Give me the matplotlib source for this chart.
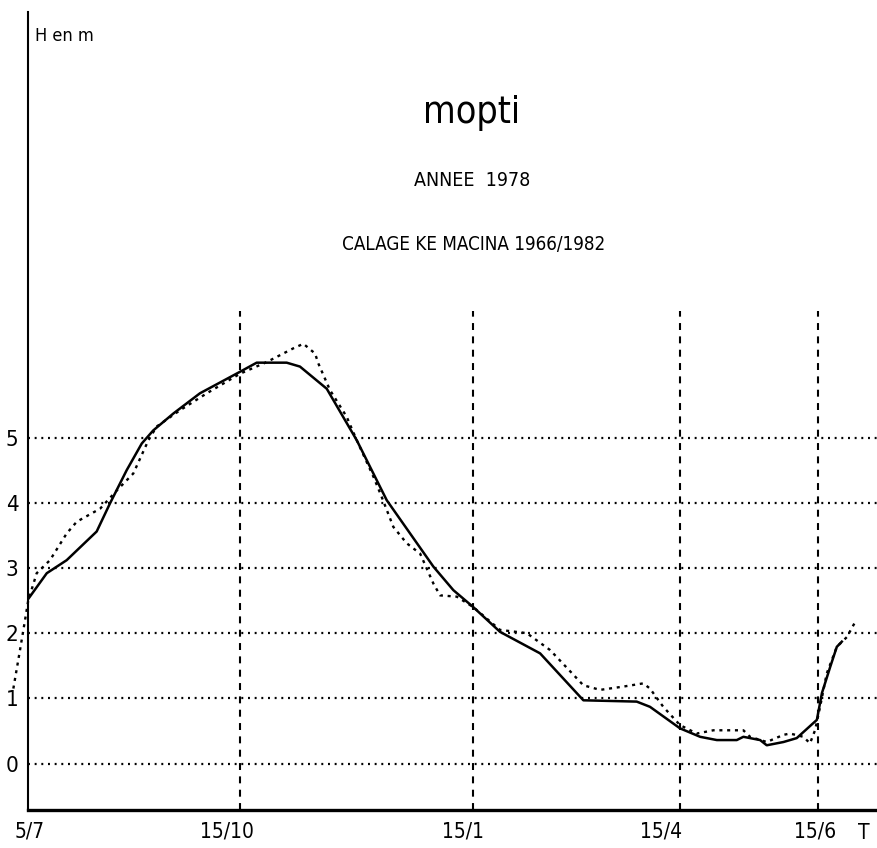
import matplotlib
matplotlib.use('Agg')
import matplotlib.pyplot as plt
from matplotlib.transforms import ScaledTranslation

plt.rcParams['font.family'] = ['DejaVu Sans']
plt.rcParams['font.stretch'] = 'condensed'
plt.rcParams['lines.scale_dashes'] = False

# Hauteurs a Mopti, annee 1978 (jours comptes depuis le 5/7, echelle du graphe)
jours_obs = [0, 8.2, 16.9, 30.0, 35.8, 43.1, 49.7, 54.7, 63.5, 75.1, 92.6, 99.9,
             113.0, 118.8, 130.5, 143.6, 156.7, 177.1, 185.8, 194.5, 206.2, 223.7,
             242.6, 265.9, 271.7, 284.8, 293.6, 300.9, 309.6, 312.5, 319.8, 322.7,
             330.0, 335.8, 344.6, 346.8, 350.4, 353.3, 355.5]
h_obs = [2.52, 2.92, 3.12, 3.56, 3.99, 4.50, 4.91, 5.11, 5.37, 5.68, 6.01, 6.15,
         6.15, 6.09, 5.75, 4.96, 4.04, 3.02, 2.66, 2.40, 2.02, 1.69,
         0.97, 0.95, 0.87, 0.54, 0.41, 0.36, 0.36, 0.41, 0.36, 0.28,
         0.33, 0.39, 0.67, 1.08, 1.48, 1.79, 1.87]

# Hauteurs calculees (calage KE Macina 1966/1982)
jours_sim = [-6.4, -3.5, -1.3, 0.1, 3.8, 9.6, 16.9, 21.3, 31.5, 38.8, 46.0, 52.6,
             56.2, 66.4, 78.1, 92.6, 104.3, 115.9, 120.3, 125.4, 126.8, 131.9,
             139.2, 143.6, 150.9, 154.5, 159.6, 165.4, 171.3, 177.1, 180.0, 187.3,
             194.5, 206.2, 217.9, 228.1, 242.6, 249.9, 260.0, 268.8, 271.7, 277.5,
             284.8, 292.1, 299.4, 312.5, 315.4, 322.7, 330.0, 332.9, 338.7, 341.6,
             343.8, 346.0, 348.9, 353.3, 357.7, 361.3]
h_sim = [1.15, 1.74, 2.20, 2.50, 2.92, 3.12, 3.53, 3.71, 3.91, 4.19, 4.45, 4.96,
         5.17, 5.42, 5.68, 5.98, 6.16, 6.37, 6.44, 6.29, 6.14, 5.73,
         5.32, 4.96, 4.40, 4.09, 3.63, 3.38, 3.22, 2.76, 2.58, 2.56,
         2.40, 2.05, 2.00, 1.74, 1.20, 1.13, 1.18, 1.23, 1.15, 0.87,
         0.59, 0.46, 0.51, 0.51, 0.41, 0.33, 0.44, 0.46, 0.41, 0.31,
         0.51, 0.87, 1.38, 1.79, 1.94, 2.17]

graduations_x = [0, 92.6, 194.3, 284.8, 345]
etiquettes_x = ['5/7', '15/10', '15/1', '15/4', '15/6']
decalage_x = [2, -13, -10, -19, -3]   # decalage des etiquettes en pixels
graduations_y = [0, 1, 2, 3, 4, 5]

fig = plt.figure(figsize=(8.78, 8.48), dpi=100)
ax = fig.add_axes([28 / 878, 38 / 848, 850 / 878, 798 / 848])
ax.set_xlim(0, 371.3)
ax.set_ylim(-0.713, 11.53)

# grille
ax.hlines(graduations_y, 0, 371.3, colors='black', linewidth=1.6,
          linestyles=[(0, (1.4, 3.4))], zorder=1)
ax.vlines(graduations_x[1:], -0.713, 6.95, colors='black', linewidth=1.5,
          linestyles=[(0, (5.0, 4.6))], zorder=1)

ax.plot(jours_obs, h_obs, color='black', linewidth=1.8, zorder=3)
ax.plot(jours_sim, h_sim, color='black', linewidth=1.7,
        linestyle=(0, (2.2, 3.4)), clip_on=False, zorder=3)

for s in ['top', 'right']:
    ax.spines[s].set_visible(False)
ax.spines['left'].set_linewidth(1.5)
ax.spines['bottom'].set_linewidth(2.4)

ax.set_xticks(graduations_x)
ax.set_xticklabels(etiquettes_x, fontsize=15)
ax.set_yticks(graduations_y)
ax.set_yticklabels([str(v) for v in graduations_y], fontsize=16)
ax.tick_params(axis='both', length=0)
ax.tick_params(axis='x', pad=8)
ax.tick_params(axis='y', pad=7)
for lab, dx in zip(ax.get_xticklabels(), decalage_x):
    lab.set_transform(lab.get_transform() + ScaledTranslation(dx / 100, 0, fig.dpi_scale_trans))

fig.text(35 / 878, 1 - 36 / 848, 'H en m', fontsize=13, ha='left', va='center')
fig.text(472 / 878, 1 - 123 / 848, 'mopti', fontsize=27, ha='center', va='baseline')
fig.text(472 / 878, 1 - 181 / 848, 'ANNEE  1978', fontsize=14, ha='center', va='center')
fig.text(474 / 878, 1 - 245 / 848, 'CALAGE KE MACINA 1966/1982', fontsize=13.5,
         ha='center', va='center')
fig.text(864 / 878, 1 - 833 / 848, 'T', fontsize=15, ha='center', va='center')

fig.savefig('out.png', dpi=100)
plt.close(fig)
